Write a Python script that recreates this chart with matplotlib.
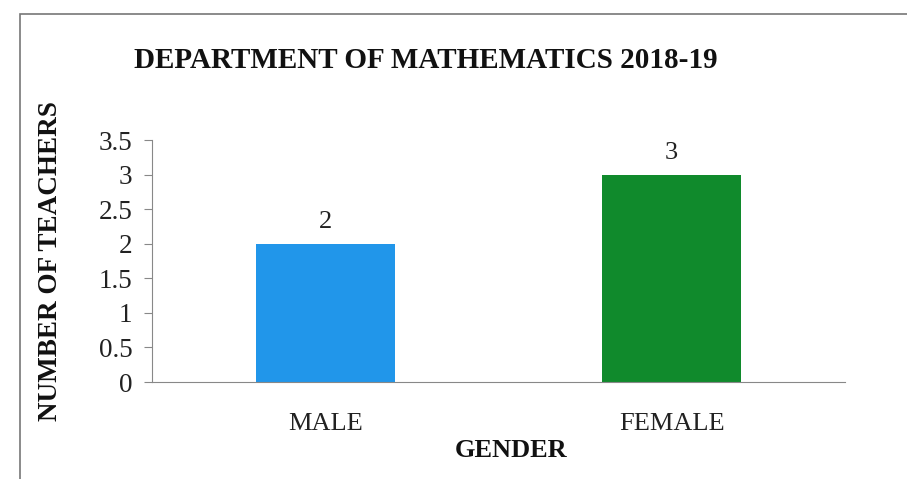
import matplotlib.pyplot as plt
from matplotlib.patches import Rectangle

# data
categories = ["MALE", "FEMALE"]
teachers = [2, 3]
bar_colors = ["#2196ea", "#108a2c"]
yticks = [0, 0.5, 1, 1.5, 2, 2.5, 3, 3.5]
ytick_labels = ["0", "0.5", "1", "1.5", "2", "2.5", "3", "3.5"]

plt.rcParams["font.family"] = ["Liberation Serif", "DejaVu Serif"]

fig = plt.figure(figsize=(9.07, 4.79), dpi=100)
ax = fig.add_axes([0.1676, 0.2025, 0.764, 0.505])

x = range(len(categories))
bars = ax.bar(x, teachers, width=0.4, color=bar_colors)
for b, v in zip(bars, teachers):
    ax.text(b.get_x() + b.get_width() / 2, v + 0.15, str(v),
            ha="center", va="bottom", fontsize=19, color="#222222")

ax.set_xlim(-0.5, 1.5)
ax.set_ylim(0, 3.5)
ax.set_yticks(yticks)
ax.set_yticklabels(ytick_labels, fontsize=19.5, color="#222222")
ax.set_xticks(list(x))
ax.set_xticklabels(categories, fontsize=19, color="#222222")
ax.tick_params(axis="x", length=0, pad=22)
ax.tick_params(axis="y", length=6, color="#888888", pad=8)

for s in ["top", "right"]:
    ax.spines[s].set_visible(False)
ax.spines["left"].set_color("#888888")
ax.spines["bottom"].set_color("#888888")

# titles
fig.text(0.47, 0.873, "DEPARTMENT OF MATHEMATICS 2018-19", ha="center",
         va="center", fontsize=21, fontweight="bold", color="#111111")
fig.text(0.563, 0.06, "GENDER", ha="center", va="center",
         fontsize=19, fontweight="bold", color="#111111")
fig.text(0.056, 0.455, "NUMBER OF TEACHERS", ha="center", va="center",
         rotation=90, fontsize=19.5, fontweight="bold", color="#111111")

# scanned frame around the chart
fig.add_artist(Rectangle((0.022, -0.05), 1.1, 1.02, transform=fig.transFigure,
                         fill=False, edgecolor="#777777", linewidth=1.2))

fig.savefig("out.png", dpi=100)
